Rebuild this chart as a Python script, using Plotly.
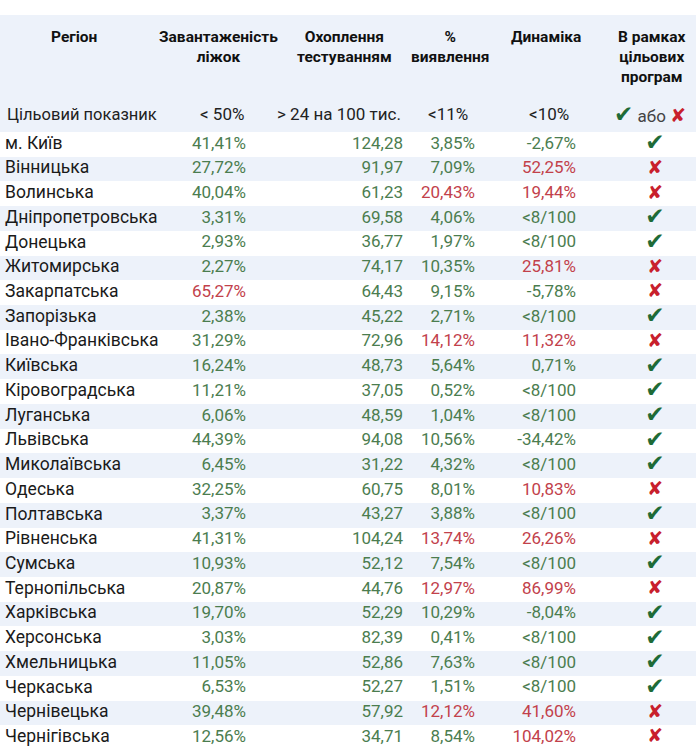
import plotly.graph_objects as go

# ---- data ----
regions = ["м. Київ", "Вінницька", "Волинська", "Дніпропетровська", "Донецька",
           "Житомирська", "Закарпатська", "Запорізька", "Івано-Франківська", "Київська",
           "Кіровоградська", "Луганська", "Львівська", "Миколаївська", "Одеська",
           "Полтавська", "Рівненська", "Сумська", "Тернопільська", "Харківська",
           "Херсонська", "Хмельницька", "Черкаська", "Чернівецька", "Чернігівська"]
beds = [41.41, 27.72, 40.04, 3.31, 2.93, 2.27, 65.27, 2.38, 31.29, 16.24, 11.21, 6.06, 44.39,
        6.45, 32.25, 3.37, 41.31, 10.93, 20.87, 19.70, 3.03, 11.05, 6.53, 39.48, 12.56]
testing = [124.28, 91.97, 61.23, 69.58, 36.77, 74.17, 64.43, 45.22, 72.96, 48.73, 37.05, 48.59,
           94.08, 31.22, 60.75, 43.27, 104.24, 52.12, 44.76, 52.29, 82.39, 52.86, 52.27, 57.92, 34.71]
detection = [3.85, 7.09, 20.43, 4.06, 1.97, 10.35, 9.15, 2.71, 14.12, 5.64, 0.52, 1.04, 10.56,
             4.32, 8.01, 3.88, 13.74, 7.54, 12.97, 10.29, 0.41, 7.63, 1.51, 12.12, 8.54]
# None = "<8/100"
dynamics = [-2.67, 52.25, 19.44, None, None, 25.81, -5.78, None, 11.32, 0.71, None, None, -34.42,
            None, 10.83, None, 26.26, None, 86.99, -8.04, None, None, None, 41.60, 104.02]
in_program = [1, 0, 0, 1, 1, 0, 0, 1, 0, 1, 1, 1, 1, 1, 0, 1, 0, 1, 0, 1, 1, 1, 1, 0, 0]

titles = ["Регіон", "Завантаженість<br>ліжок", "Охоплення<br>тестуванням", "%<br>виявлення",
          "Динаміка", "В рамках<br>цільових<br>програм"]
targets = ["Цільовий показник", "< 50%", "> 24 на 100 тис.", "<11%", "<10%"]

GREEN = "#4b7d4f"
RED = "#c2414b"
CHECK = "#1e6b37"
CROSS = "#c8202c"
BLUE = "#edf2fa"
FONT = "Roboto"
SYM_FONT = "DejaVu Sans"

W, H = 696, 750
HDR_TOP, HDR_BOT = 15, 132


def fmt(v, pct=True):
    s = f"{v:.2f}".replace(".", ",")
    return s + "%" if pct else s


fig = go.Figure()

# row stripes
fig.add_trace(go.Bar(
    y=regions, x=[W] * len(regions), orientation="h", width=1,
    marker=dict(color=["white" if i % 2 == 0 else BLUE for i in range(len(regions))],
                line=dict(width=0)),
    hoverinfo="skip", showlegend=False,
))

# region names
fig.add_trace(go.Scatter(
    x=[5] * len(regions), y=regions, mode="text", text=regions, textposition="middle right",
    textfont=dict(family=FONT, size=17.5, color="#1a1a1a"),
    hoverinfo="skip", showlegend=False, cliponaxis=False,
))

# value columns: (text, colours, right edge)
columns = [
    ([fmt(v) for v in beds], [GREEN if v < 50 else RED for v in beds], 246),
    ([fmt(v, False) for v in testing], [GREEN if v > 24 else RED for v in testing], 403),
    ([fmt(v) for v in detection], [GREEN if v < 11 else RED for v in detection], 475),
    (["&lt;8/100" if v is None else fmt(v) for v in dynamics],
     [GREEN if (v is None or v < 10) else RED for v in dynamics], 576),
]
for text, color, x0 in columns:
    fig.add_trace(go.Scatter(
        x=[x0] * len(regions), y=regions, mode="text", text=text, textposition="middle left",
        textfont=dict(family=FONT, size=17, color=color),
        hoverinfo="skip", showlegend=False, cliponaxis=False,
    ))

fig.add_trace(go.Scatter(
    x=[655] * len(regions), y=regions, mode="text",
    text=["✔" if p else "✘" for p in in_program], textposition="middle center",
    textfont=dict(family=SYM_FONT, size=[23 if p else 19 for p in in_program],
                  color=[CHECK if p else CROSS for p in in_program]),
    hoverinfo="skip", showlegend=False, cliponaxis=False,
))

# header block
fig.add_shape(type="rect", xref="paper", yref="paper", x0=0, x1=1,
              y0=1 - HDR_BOT / H, y1=1 - HDR_TOP / H,
              fillcolor=BLUE, line=dict(width=0), layer="below")

title_x = [74, 218, 344, 450, 546, 652]
for t, x0 in zip(titles, title_x):
    fig.add_annotation(x=x0, xref="x", y=1 - 26 / H, yref="paper", text=f"<b>{t}</b>",
                       showarrow=False, xanchor="center", yanchor="top", align="center",
                       font=dict(family=FONT, size=15.5, color="#111"))

target_x = [5, 246, 403, 470, 571]
target_size = [16.5, 17, 17, 17, 17]
for i, (t, x0) in enumerate(zip(targets, target_x)):
    fig.add_annotation(x=x0, xref="x", y=1 - 114 / H, yref="paper", text=t.replace("<", "&lt;"),
                       showarrow=False, xanchor="left" if i == 0 else "right", yanchor="middle",
                       font=dict(family=FONT, size=target_size[i], color="#222"))
fig.add_annotation(
    x=650, xref="x", y=1 - 114 / H, yref="paper", showarrow=False,
    text=(f"<span style='color:{CHECK};font-family:{SYM_FONT};font-size:23px'>✔</span>"
          f" або <span style='color:{CROSS};font-family:{SYM_FONT};font-size:19px'>✘</span>"),
    xanchor="center", yanchor="middle", font=dict(family=FONT, size=17, color="#444"))

fig.update_layout(
    width=W, height=H, margin=dict(l=0, r=0, t=0, b=0),
    paper_bgcolor="white", plot_bgcolor="white", bargap=0,
    xaxis=dict(range=[0, W], visible=False, fixedrange=True),
    yaxis=dict(domain=[0, 1 - HDR_BOT / H], range=[len(regions) - 0.5, -0.5],
               visible=False, fixedrange=True, type="category"),
)
# page body has a default 8px margin; drop it so the figure fills the window
fig.write_html("out.html", config={"displayModeBar": False},
               post_script="document.body.style.margin = '0';")
